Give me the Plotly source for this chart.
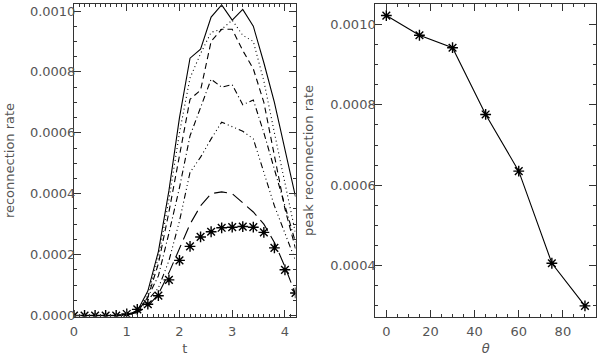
import plotly.graph_objects as go

t = [0.0, 0.2, 0.4, 0.6, 0.8, 1.0, 1.2, 1.4, 1.6, 1.8, 2.0, 2.2, 2.4, 2.6, 2.8, 3.0, 3.2, 3.4, 3.6, 3.8, 4.0, 4.2]

rate_0 = [0, 0, 0, 0, 0, 0.000003, 0.000015, 0.00008, 0.00021, 0.00041, 0.00065, 0.000845, 0.000875,
          0.00098, 0.00102, 0.00097, 0.001005, 0.00095, 0.00083, 0.0007, 0.00055, 0.00039]
rate_15 = [0, 0, 0, 0, 0, 0.000003, 0.000015, 0.00007, 0.00019, 0.00038, 0.0006, 0.00078, 0.00086,
           0.00093, 0.00094, 0.00097, 0.00092, 0.0009, 0.00077, 0.0006, 0.00043, 0.00027]
rate_30 = [0, 0, 0, 0, 0, 0.000003, 0.000012, 0.00006, 0.00017, 0.00034, 0.00053, 0.00071, 0.00074,
           0.0009, 0.00094, 0.00094, 0.00087, 0.00081, 0.0007, 0.00053, 0.00035, 0.00022]
rate_45 = [0, 0, 0, 0, 0, 0.000003, 0.00001, 0.00006, 0.00013, 0.00027, 0.00042, 0.00059, 0.00068,
           0.000776, 0.00075, 0.000758, 0.000692, 0.000708, 0.0006, 0.00048, 0.00036, 0.00024]
rate_60 = [0, 0, 0, 0, 0, 0.000003, 0.00001, 0.00005, 0.00009, 0.00018, 0.00031, 0.00047, 0.00052,
           0.00058, 0.000635, 0.00062, 0.000605, 0.00058, 0.00047, 0.00036, 0.00027, 0.00018]
rate_75 = [0, 0, 0, 0, 0, 0.000003, 0.00001, 0.00003, 0.00007, 0.00014, 0.00022, 0.0003, 0.00036,
           0.0004, 0.000406, 0.0004, 0.00037, 0.00034, 0.0003, 0.00024, 0.00016, 0.00007]
rate_90 = [0, 0, 0, 0, 0, 0.000005, 0.00002, 0.000037, 0.000065, 0.000117, 0.000181, 0.000227, 0.000258,
           0.000275, 0.000288, 0.00029, 0.000292, 0.00029, 0.000273, 0.000222, 0.00015, 0.000074]

theta = [0, 15, 30, 45, 60, 75, 90]
peak_rate = [0.001022, 0.000973, 0.000942, 0.000776, 0.000635, 0.000406, 0.0003]

fig = go.Figure()

line_specs = [
    (rate_0, "solid"),
    (rate_15, "1px,3px"),
    (rate_30, "6px,4px"),
    (rate_45, "6px,3px,1px,3px"),
    (rate_60, "6px,3px,1px,3px,1px,3px,1px,3px"),
    (rate_75, "13px,6px"),
]
for ys, dash in line_specs:
    fig.add_trace(go.Scatter(x=t, y=ys, mode="lines",
                             line=dict(color="black", width=1.1, dash=dash),
                             showlegend=False, xaxis="x", yaxis="y"))

star = dict(symbol="asterisk-open", size=9, color="black", line=dict(color="black", width=1.4))

fig.add_trace(go.Scatter(x=t, y=rate_90, mode="markers", marker=star,
                         showlegend=False, xaxis="x", yaxis="y"))

fig.add_trace(go.Scatter(x=theta, y=peak_rate, mode="lines+markers",
                         line=dict(color="black", width=1.1), marker=star,
                         showlegend=False, xaxis="x2", yaxis="y2"))

font = dict(family="DejaVu Sans", size=13, color="#555")
ax_common = dict(showgrid=False, zeroline=False, showline=True, linecolor="#333", linewidth=1,
                 mirror="ticks", ticks="inside", ticklen=7, tickcolor="#333",
                 tickfont=font, automargin=False)

ydom = [1 - 316.7 / 356, 1 - 4.3 / 356]

fig.update_layout(
    width=600, height=356,
    margin=dict(l=0, r=0, t=0, b=0),
    paper_bgcolor="white", plot_bgcolor="white",
    xaxis=dict(domain=[74 / 600, 295.5 / 600], range=[0, 4.2], tickvals=[0, 1, 2, 3, 4],
               minor=dict(dtick=0.1, ticklen=3, ticks="inside", tickcolor="#333"),
               ticklabelstandoff=3,
               title=dict(text="t", font=font, standoff=5), anchor="y", **ax_common),
    yaxis=dict(domain=ydom, range=[-0.000004, 0.001022],
               tickvals=[0, 0.0002, 0.0004, 0.0006, 0.0008, 0.0010],
               ticktext=["0.0000", "0.0002", "0.0004", "0.0006", "0.0008", "0.0010"],
               minor=dict(dtick=0.00005, ticklen=3, ticks="inside", tickcolor="#333"),
               ticklabelstandoff=-5,
               title=dict(text="reconnection rate", font=font, standoff=12), anchor="x", **ax_common),
    xaxis2=dict(domain=[375.3 / 600, 596 / 600], range=[-5, 95], tickvals=[0, 20, 40, 60, 80],
                minor=dict(dtick=5, ticklen=3, ticks="inside", tickcolor="#333"),
                ticklabelstandoff=3,
                title=dict(text="<i>θ</i>", font=font, standoff=5), anchor="y2", **ax_common),
    yaxis2=dict(domain=ydom, range=[0.000273, 0.00105],
                tickvals=[0.0004, 0.0006, 0.0008, 0.0010],
                ticktext=["0.0004", "0.0006", "0.0008", "0.0010"],
                minor=dict(dtick=0.00005, ticklen=3, ticks="inside", tickcolor="#333"),
                ticklabelstandoff=-4,
                title=dict(text="peak reconnection rate", font=font, standoff=13), anchor="x2", **ax_common),
)

fig.write_html("out.html", config={"displayModeBar": False},
               post_script="document.body.style.margin='0px';")
